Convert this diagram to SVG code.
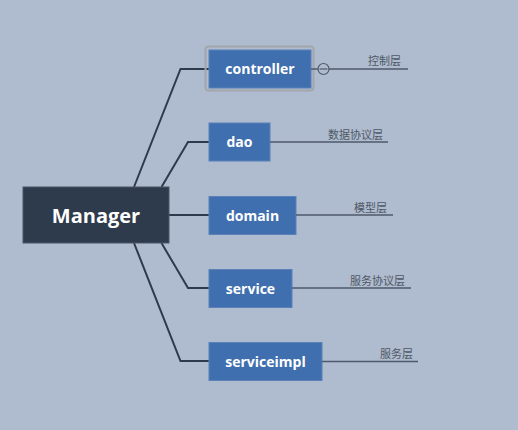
<svg xmlns="http://www.w3.org/2000/svg" width="518" height="430" viewBox="0 0 518 430">
<style>
.bg{fill:#AFBBCE}
.conn{fill:none;stroke:#2E3B4C;stroke-width:2}
.sub{fill:#3F6FAE;stroke:#5A82B8;stroke-width:1}
.subt{font-family:"Open Sans","DejaVu Sans",sans-serif;font-weight:bold;font-size:14px;fill:#FFFFFF;text-anchor:middle}
.note{fill:none;stroke:#4E5A6B;stroke-width:1.5}
.notet{font-family:"Noto Sans CJK SC","Noto Sans",sans-serif;font-size:11px;fill:#4E5866}
</style>
<rect class="bg" x="0" y="0" width="518" height="430"/>
<g id="connectors">
<polyline class="conn" points="134,187 180.5,69 209,69"/>
<polyline class="conn" points="161.5,187 188,142 209,142"/>
<polyline class="conn" points="169,215 209,215"/>
<polyline class="conn" points="161.5,243 188,288 209,288"/>
<polyline class="conn" points="134,243 180.5,361 209,361"/>
</g>
<g id="manager">
<rect x="23" y="187" width="146" height="56" fill="#2E3B4C" stroke="#4A5668" stroke-width="1"/>
<text x="96" y="222.5" font-family="'Open Sans','DejaVu Sans',sans-serif" font-weight="bold" font-size="20" fill="#FFFFFF" text-anchor="middle">Manager</text>
</g>
<g id="controller">
<rect x="205.5" y="46.5" width="108" height="44" rx="3" fill="none" stroke="#A2A6AD" stroke-width="2"/>
<rect class="sub" x="209" y="50" width="102" height="38"/>
<text class="subt" x="260" y="74">controller</text>
<line class="note" x1="311" y1="69" x2="408" y2="69"/>
<circle cx="323.5" cy="69" r="5.5" fill="#AFBBCE" stroke="#4E5A6B" stroke-width="1.2"/>
<line x1="319.5" y1="69" x2="327.5" y2="69" stroke="#4E5A6B" stroke-width="1.2"/>
<text class="notet" x="368" y="65">控制层</text>
</g>
<g id="dao">
<rect class="sub" x="209" y="123" width="61" height="38"/>
<text class="subt" x="239.5" y="147">dao</text>
<line class="note" x1="270" y1="142" x2="388" y2="142"/>
<text class="notet" x="328" y="139">数据协议层</text>
</g>
<g id="domain">
<rect class="sub" x="209" y="196.5" width="87" height="38"/>
<text class="subt" x="252.5" y="220.5">domain</text>
<line class="note" x1="296" y1="215" x2="393" y2="215"/>
<text class="notet" x="354" y="212">模型层</text>
</g>
<g id="service">
<rect class="sub" x="209" y="269.5" width="83" height="38"/>
<text class="subt" x="250.5" y="293.5">service</text>
<line class="note" x1="292" y1="288" x2="411" y2="288"/>
<text class="notet" x="350" y="285">服务协议层</text>
</g>
<g id="serviceimpl">
<rect class="sub" x="209" y="342.5" width="113" height="38"/>
<text class="subt" x="265.5" y="366.5">serviceimpl</text>
<line class="note" x1="322" y1="361.5" x2="418" y2="361.5"/>
<text class="notet" x="380" y="358">服务层</text>
</g>
</svg>
